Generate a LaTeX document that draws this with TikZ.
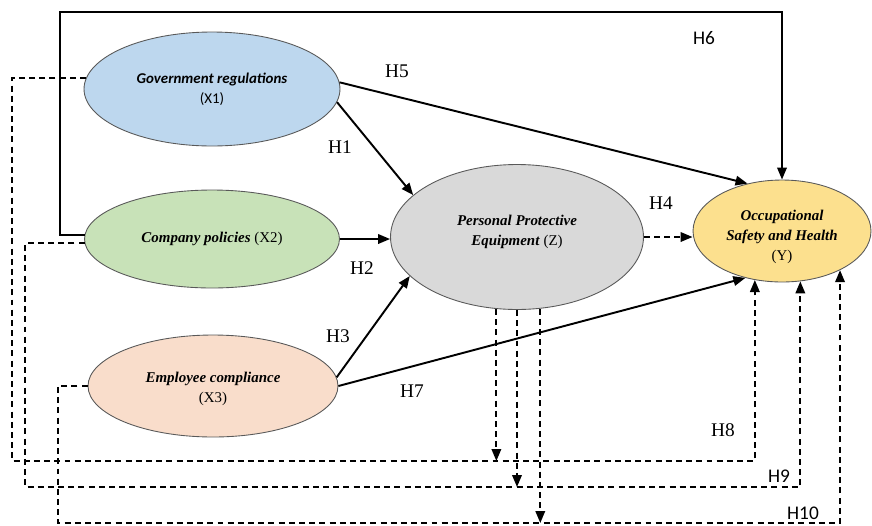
\documentclass[tikz,border=0pt]{standalone}
\usepackage{fontspec}
\setmainfont{Liberation Serif}
\newfontfamily\calfont{Carlito}
\usetikzlibrary{arrows.meta,shapes.geometric}
\definecolor{govblue}{HTML}{BDD7EE}
\definecolor{compgreen}{HTML}{C8E2B8}
\definecolor{emplpeach}{HTML}{F9DDCB}
\definecolor{ppegray}{HTML}{D9D9D9}
\definecolor{oshyellow}{HTML}{FCE08E}

\begin{document}
\begin{tikzpicture}[x=0.02cm,y=-0.02cm,
  var/.style={ellipse,draw=black!65,line width=0.5pt,inner sep=0pt,align=center,
    font=\fontsize{8.5}{11.3}\selectfont},
  arr/.style={line width=1.1pt,-{Triangle[length=2.4mm,width=1.9mm]}},
  darr/.style={arr,dash pattern=on 3.4pt off 2.4pt},
  hlab/.style={font=\fontsize{11}{13}\selectfont,inner sep=0pt},
  hsans/.style={hlab,font=\calfont\fontsize{11}{13}\selectfont}]
\useasboundingbox (0,0) rectangle (872,525);

% --- constructs ---
\node[var,fill=govblue,minimum width=5.12cm,minimum height=2.28cm] (gov) at (212,89)
  {{\calfont\bfseries\itshape Government regulations}\\ {\calfont (X1)}};
\node[var,fill=compgreen,minimum width=5.1cm,minimum height=1.96cm] (comp) at (212,239)
  {\textbf{\textit{Company policies}} (X2)};
\node[var,fill=emplpeach,minimum width=5.0cm,minimum height=2.04cm] (empl) at (213,386)
  {\rule{0pt}{9pt}\textbf{\textit{Employee compliance}}\\ (X3)};
\node[var,fill=ppegray,minimum width=5.06cm,minimum height=2.9cm] (ppe) at (517,237)
  {\textbf{\textit{Personal Protective}}\\ \textbf{\textit{Equipment}} (Z)\\[-3.3pt]};
\node[var,fill=oshyellow,minimum width=3.56cm,minimum height=2.04cm] (osh) at (782,231)
  {\rule{0pt}{12.5pt}\textbf{\textit{Occupational}}\\ \textbf{\textit{Safety and Health}}\\ (Y)};

% --- bend points of the long paths ---
\coordinate (h6) at (60,12);
\coordinate (h8) at (12,461);
\coordinate (h9) at (25,487);
\coordinate (h10) at (58,523);

% --- direct paths ---
\draw[arr] (gov.354) -- (ppe.158);
\draw[arr] (comp.east) -- (comp.east -| ppe.west);
\draw[arr] (empl.4) -- (ppe.200);
\draw[darr] (ppe.east) -- (ppe.east -| osh.west);
\draw[arr] (gov.3) -- (osh.126);
\draw[arr] (comp.178) -| (h6) -| (osh.north);
\draw[arr] (empl.east) -- (osh.232);

% --- mediated paths ---
\draw[darr] (gov.175) -| (h8) -| (osh.241);
\draw[darr] (ppe.254) -- (ppe.254 |- h8);
\draw[darr] (comp.182) -| (h9) -| (osh.290);
\draw[darr] (ppe.south) -- (ppe.south |- h9);
\draw[darr] (empl.west) -| (h10) -| (osh.326);
\draw[darr] (ppe.288) -- (ppe.288 |- h10);

% --- hypothesis labels ---
\node[hlab] (l1) at (340,147) {H1};
\node[hlab] (l2) at (362,268) {H2};
\node[hlab] (l3) at (338,336) {H3};
\node[hlab] (l4) at (661,203) {H4};
\node[hlab] (l5) at (397,71) {H5};
\node[hsans] (l6) at (704,38) {H6};
\node[hlab] (l7) at (412,391) {H7};
\node[hlab] (l8) at (723,430) {H8};
\node[hsans] (l9) at (779,476) {H9};
\node[hsans] (l10) at (803,513) {H10};
\end{tikzpicture}
\end{document}
